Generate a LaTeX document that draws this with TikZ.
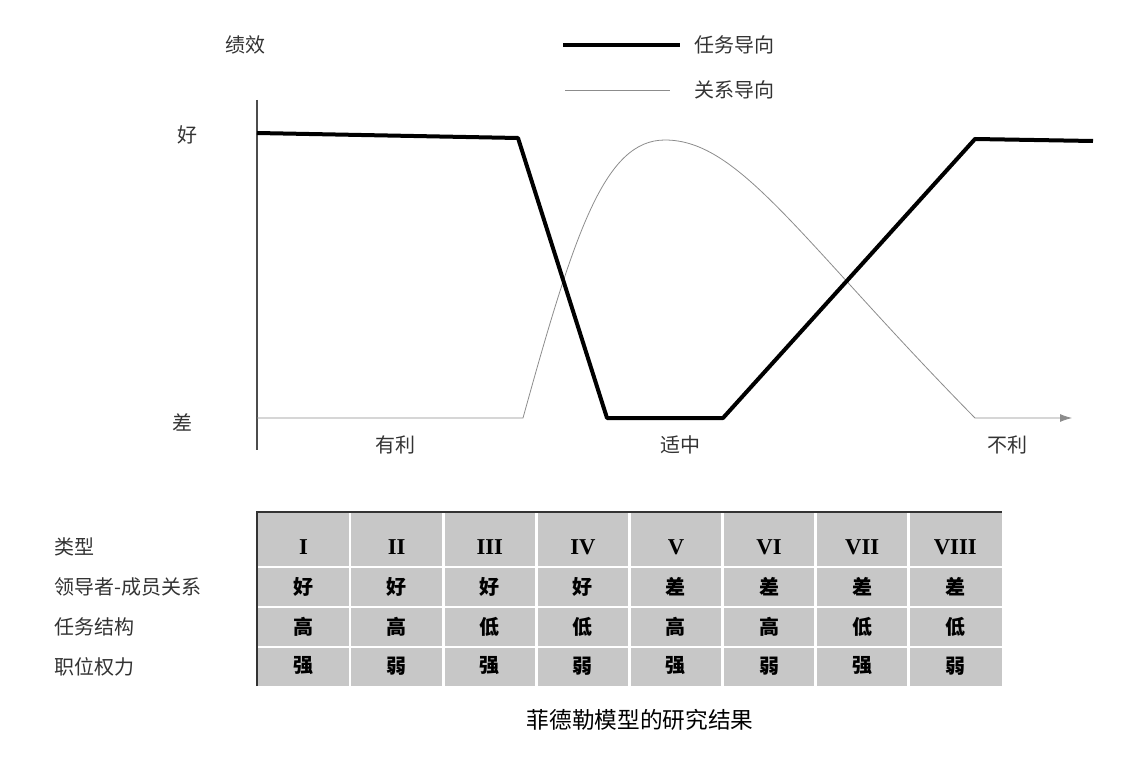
\documentclass[tikz,border=0pt]{standalone}
\usepackage{fontspec}
\setmainfont{Liberation Serif}
\newfontfamily\cjk{Noto Sans CJK SC}
\usetikzlibrary{arrows.meta}
\begin{document}
\begin{tikzpicture}[x=0.75pt,y=-0.75pt,
  lbl/.style={font=\cjk\fontsize{15}{15}\selectfont,text=black!80},
  cell/.style={font=\cjk\bfseries\fontsize{15}{15}\selectfont},
  thick line/.style={line width=3pt,line join=round},
  thin line/.style={line width=0.6pt,black!45}]
\useasboundingbox (0,0) rectangle (1133,767);
% axes
\coordinate (o) at (257,418);
\coordinate (yt) at (257,100);
\coordinate (yb) at (257,450);
\coordinate (xe) at (1072,418);
\draw[black!70,line width=0.8pt] (yt) -- (yb);
\node[lbl] (jx) at (245,45) {绩效};
\node[lbl] (hao) at (187,135) {好};
\node[lbl] (cha) at (182,422) {差};
\node[lbl] (yl) at (395,445) {有利};
\node[lbl] (sz) at (680,445) {适中};
\node[lbl] (bl) at (1007,445) {不利};
% legend
\coordinate (l1a) at (563,45); \coordinate (l1b) at (680,45);
\coordinate (l2a) at (565,90); \coordinate (l2b) at (670,90);
\draw[thick line] (l1a) -- (l1b);
\draw[thin line] (l2a) -- (l2b);
\node[lbl,anchor=west] (t1) at (690,45) {任务导向};
\node[lbl,anchor=west] (t2) at (690,90) {关系导向};
% relation curve
\draw[thin line,-{Latex[length=9pt,width=6pt]}] (o) -- (523,418)
  .. controls (575,230) and (605,140) .. (665,140)
  .. controls (740,140) and (800,240) .. (975,418) -- (xe);
% task line
\draw[thick line] (257,133) -- (518,138) -- (607,418) -- (723,418) -- (975,139) -- (1093,141);
% table
\fill[black!22] (257,512) rectangle (1002,686);
\foreach \i in {1,...,7} \draw[white,line width=2pt] ({257+\i*93.1},512) -- ({257+\i*93.1},686);
\foreach \y in {567,607,647} \draw[white,line width=2pt] (257,\y) -- (1002,\y);
\draw[black!80,line width=1pt] (257,686) -- (257,512) -- (1002,512);
\foreach \t [count=\r] in {类型,领导者-成员关系,任务结构,职位权力}
  \node[lbl,anchor=west] (r\r) at (50,{507+\r*40}) {\t};
\foreach \t [count=\c] in {I,II,III,IV,V,VI,VII,VIII}
  \node[font=\bfseries\fontsize{17}{17}\selectfont] (c1\c) at ({257+(\c-0.5)*93.1},547) {\t};
\foreach \t [count=\c] in {好,好,好,好,差,差,差,差}
  \node[cell] (c2\c) at ({257+(\c-0.5)*93.1},587) {\t};
\foreach \t [count=\c] in {高,高,低,低,高,高,低,低}
  \node[cell] (c3\c) at ({257+(\c-0.5)*93.1},627) {\t};
\foreach \t [count=\c] in {强,弱,强,弱,强,弱,强,弱}
  \node[cell] (c4\c) at ({257+(\c-0.5)*93.1},666) {\t};
\node[font=\cjk\fontsize{17}{17}\selectfont] (cap) at (640,720) {菲德勒模型的研究结果};
\end{tikzpicture}
\end{document}
